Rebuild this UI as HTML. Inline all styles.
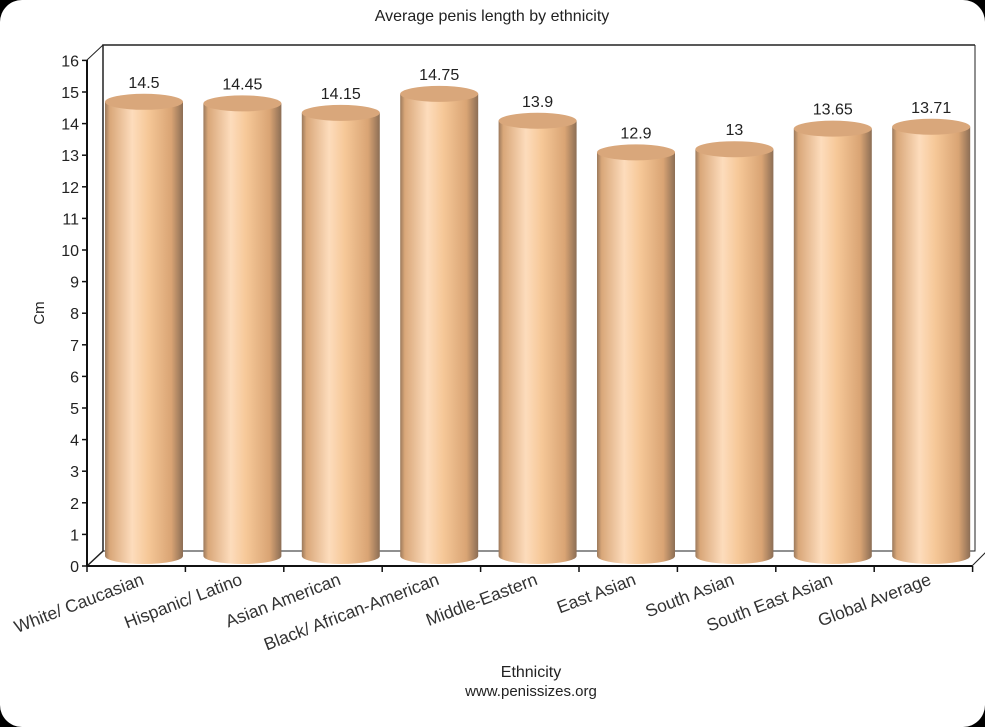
<!DOCTYPE html>
<html><head><meta charset="utf-8"><style>
html,body{margin:0;padding:0;background:#000;}
svg{display:block;}
text{font-family:"Liberation Sans",sans-serif;fill:#222;}
</style></head><body>
<svg width="985" height="727" viewBox="0 0 985 727" xmlns="http://www.w3.org/2000/svg">
<defs>
<linearGradient id="g" x1="0" x2="1" y1="0" y2="0">
<stop offset="0" stop-color="#9c7a5c"/>
<stop offset="0.06" stop-color="#d9a779"/>
<stop offset="0.35" stop-color="#fddcbc"/>
<stop offset="0.55" stop-color="#f6c898"/>
<stop offset="0.85" stop-color="#d9a474"/>
<stop offset="1" stop-color="#8c6e55"/>
</linearGradient>
</defs>
<rect x="0" y="0" width="985" height="727" rx="22" fill="#fff"/>
<text x="492" y="21" font-size="16" text-anchor="middle">Average penis length by ethnicity</text>
<polyline points="87,566 103,551 103,45 975,45" fill="none" stroke="#222" stroke-width="1.5"/>
<line x1="87" y1="60" x2="103" y2="45" stroke="#222" stroke-width="1"/>
<polyline points="103,551 975,551 975,45" fill="none" stroke="#222" stroke-width="1"/>
<line x1="972" y1="566" x2="987" y2="551" stroke="#222" stroke-width="1"/>
<line x1="87" y1="566" x2="972" y2="566" stroke="#111" stroke-width="2"/>
<line x1="87" y1="60" x2="87" y2="566" stroke="#111" stroke-width="2"/>
<g id="bars"></g>
<g font-size="16" text-anchor="end" id="yt"></g>
<text transform="translate(44,313) rotate(-90)" font-size="15" text-anchor="middle">Cm</text>
<text x="531" y="677" font-size="16" text-anchor="middle">Ethnicity</text>
<text x="531" y="696" font-size="15" text-anchor="middle">www.penissizes.org</text>
<script>
var ns="http://www.w3.org/2000/svg";
function el(t,a,p,txt){var e=document.createElementNS(ns,t);for(var k in a)e.setAttribute(k,a[k]);if(txt!=null)e.textContent=txt;(p||document.querySelector('svg')).appendChild(e);return e;}
var yt=document.getElementById('yt');
for(var i=0;i<=16;i++){var y=566-i*31.6;el('line',{x1:82,y1:y,x2:87,y2:y,stroke:'#111','stroke-width':1.5});el('text',{x:79,y:y+6},yt,String(i));}
for(var k=0;k<=9;k++){var x=87+k*98.4;el('line',{x1:x,y1:566,x2:x,y2:572,stroke:'#111','stroke-width':1.5});}
var vals=[14.5,14.45,14.15,14.75,13.9,12.9,13,13.65,13.71];
var labs=["14.5","14.45","14.15","14.75","13.9","12.9","13","13.65","13.71"];
var names=["White/ Caucasian","Hispanic/ Latino","Asian American","Black/ African-American","Middle-Eastern","East Asian","South Asian","South East Asian","Global Average"];
var bg=document.getElementById('bars');
for(var j=0;j<9;j++){
 var cx=87+j*98.4+49+8, rx=39, ty=566-vals[j]*31.6-6, by=556;
 el('path',{d:'M'+(cx-rx)+','+ty+' L'+(cx-rx)+','+by+' A'+rx+',8 0 0 0 '+(cx+rx)+','+by+' L'+(cx+rx)+','+ty+' Z',fill:'url(#g)'},bg);
 el('ellipse',{cx:cx,cy:ty,rx:rx,ry:8,fill:'#d9a77b'},bg);
 el('text',{x:cx,y:ty-14,'font-size':16,'text-anchor':'middle'},null,labs[j]);
 el('text',{transform:'translate('+(cx+1)+',584) rotate(-21)','font-size':17.5,'text-anchor':'end',style:'fill:#333'},null,names[j]);
}
</script>
</svg>
</body></html>
